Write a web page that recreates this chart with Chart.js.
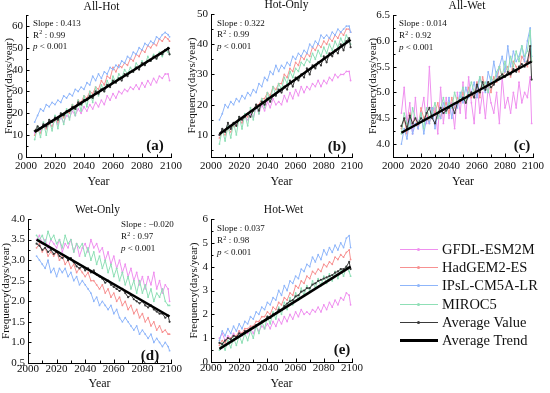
<!DOCTYPE html>
<html>
<head>
<meta charset="utf-8">
<script src="https://cdn.jsdelivr.net/npm/chart.js@4.4.1/dist/chart.umd.min.js"></script>
<style>
  body { margin: 0; width: 550px; height: 393px; background: #fff; position: relative; overflow: hidden; font-family: "Liberation Serif", serif; }
  canvas { position: absolute; }
  .lg { position: absolute; left: 398px; height: 18px; width: 152px; }
  .lg .ln { position: absolute; left: 2px; width: 38px; top: 9px; height: 1px; }
  .lg .dt { position: absolute; left: 19px; top: 8px; width: 3px; height: 3px; border-radius: 50%; }
  .lg span { position: absolute; left: 44px; top: 0; font-size: 14.5px; line-height: 18px; color: #111; white-space: nowrap; }
</style>
</head>
<body>
<canvas id="pa" style="left:0px;top:0px" width="187" height="190"></canvas>
<canvas id="pb" style="left:186px;top:0px" width="182" height="190"></canvas>
<canvas id="pc" style="left:366px;top:0px" width="184" height="190"></canvas>
<canvas id="pd" style="left:0px;top:195px" width="187" height="198"></canvas>
<canvas id="pe" style="left:186px;top:195px" width="182" height="198"></canvas>
<div id="legend"></div>
<script>
const years = [2006,2008,2010,2012,2014,2016,2018,2020,2022,2024,2026,2028,2030,2032,2034,2036,
  2038,2040,2042,2044,2046,2048,2050,2052,2054,2056,2058,2060,2062,2064,2066,2068,2070,2072,
  2074,2076,2078,2080,2082,2084,2086,2088,2090,2092,2094,2096,2098,2099];
const trendYears = [2006, 2099];
const models = ['GFDL-ESM2M', 'HadGEM2-ES', 'IPsL-CM5A-LR', 'MIROC5'];

// (a) All-Hot
const allHotGfdl = [11,13,12,15,13,16,14,17,15,18,16,19,18,21,19,22,20,23,21,24,22,25,23,26,24,28,26,29,27,30,29,31,30,32,31,33,31,34,32,35,33,36,34,37,36,38,38,35];
const allHotHad = [10,12,11,14,13,15,14,17,16,19,18,21,20,24,22,26,25,28,27,30,29,32,31,35,33,37,36,41,39,42,41,43,42,45,44,47,46,49,48,51,50,52,51,54,53,55,54,53];
const allHotIpsl = [16,19,22,21,24,23,25,24,26,25,28,27,29,28,31,30,32,31,34,33,37,35,38,36,39,38,41,40,42,41,44,43,46,45,48,47,50,49,52,51,53,52,55,54,56,57,56,55];
const allHotMiroc = [8,14,9,16,10,17,12,19,13,20,15,22,17,24,19,26,21,28,23,30,25,32,28,33,30,35,32,37,34,38,36,40,38,41,39,43,41,44,42,46,44,47,45,48,46,49,48,47];
const allHotAvg = [12,14,13,15,14,17,16,18,17,20,19,21,21,23,22,25,24,26,26,28,27,30,29,31,30,33,32,35,34,36,35,38,37,39,39,41,40,43,42,44,44,46,45,47,47,49,50,47];
const allHotTrend = [11.5, 50.0];

// (b) Hot-Only
const hotOnlyGfdl = [10,12,11,13,12,14,13,15,14,16,15,17,16,19,17,20,18,21,19,22,20,21,20,23,21,24,22,25,23,26,24,26,25,27,26,28,26,28,27,29,28,30,29,30,30,31,31,28];
const hotOnlyHad = [9,11,10,12,11,13,13,15,14,16,16,18,18,20,20,22,22,24,23,26,25,27,27,30,29,32,31,34,33,36,35,37,36,39,38,40,39,41,40,42,41,43,42,44,43,45,45,44];
const hotOnlyIpsl = [15,17,20,19,21,20,22,21,23,22,24,23,25,24,27,26,29,28,31,30,33,31,33,32,34,33,36,35,37,36,38,37,40,39,41,40,43,42,43,42,44,43,45,44,45,46,46,44];
const hotOnlyMiroc = [7,12,8,13,9,14,10,16,12,17,13,19,15,20,17,22,19,24,21,26,23,27,25,29,27,31,29,32,31,34,33,35,34,37,35,38,36,39,37,40,38,41,39,42,40,43,41,40];
const hotOnlyAvg = [10,12,11,14,12,14,13,16,15,16,17,16,18,20,18,21,20,22,21,23,23,25,24,26,25,28,26,29,28,30,29,32,30,33,32,34,33,36,34,37,36,38,37,40,38,41,42,39];
const hotOnlyTrend = [10.3, 41.5];

// (c) All-Wet
const allWetGfdl = [4.6,5.1,4.4,4.8,4.2,4.9,4.3,4.6,4.9,4.4,5.5,4.5,4.7,4.2,5.1,4.4,4.9,4.5,4.8,4.3,5.0,4.6,5.2,4.5,5.3,4.8,4.4,5.2,4.6,5.0,4.5,5.1,4.8,4.6,5.0,4.4,5.3,4.7,4.9,4.6,5.0,4.7,5.2,4.8,5.0,4.9,5.3,4.4];
const allWetHad = [4.3,4.5,4.2,4.6,4.4,4.5,4.3,4.7,4.5,4.6,4.4,4.7,4.6,4.8,4.5,4.7,4.8,4.6,4.9,4.7,4.9,4.8,5.0,4.8,5.1,4.9,5.0,5.2,4.9,5.3,5.1,5.2,5.0,5.3,5.2,5.5,5.3,5.4,5.5,5.3,5.6,5.5,5.4,5.7,5.6,5.5,5.8,5.6];
const allWetIpsl = [4.0,4.3,4.1,4.5,4.2,4.4,4.3,4.6,4.2,4.5,4.4,4.7,4.3,4.6,4.5,4.8,4.6,4.9,4.5,4.8,4.7,5.0,4.8,5.1,4.9,5.0,5.2,4.9,5.3,5.1,5.0,5.4,5.2,5.6,5.3,5.5,5.7,5.4,5.9,5.5,5.8,5.6,5.7,5.9,5.6,6.0,6.25,5.7];
const allWetMiroc = [4.2,4.6,4.4,4.3,4.7,4.5,4.4,4.6,4.3,4.7,4.5,4.6,4.8,4.5,4.7,4.9,4.6,4.8,4.7,5.0,4.8,4.9,5.1,4.8,5.0,5.2,5.0,5.1,5.3,5.1,5.2,5.0,5.3,5.2,5.4,5.5,5.3,5.6,5.4,5.7,5.5,5.8,5.6,5.9,5.7,5.8,6.2,5.6];
const allWetAvg = [4.35,4.5,4.3,4.55,4.4,4.5,4.4,4.5,4.45,4.6,4.7,4.5,4.4,4.6,4.7,4.6,4.65,4.7,4.75,4.6,4.8,4.85,4.9,4.8,4.95,5.0,4.9,5.15,5.0,5.2,5.05,5.2,5.1,5.15,5.25,5.3,5.35,5.3,5.4,5.35,5.45,5.4,5.5,5.55,5.5,5.6,5.9,5.25];
const allWetTrend = [4.22, 5.6];

// (d) Wet-Only
const wetOnlyGfdl = [3.5,3.6,3.4,3.5,3.3,3.5,3.4,3.3,3.5,3.2,3.4,3.3,3.5,3.2,3.4,3.1,3.3,3.4,3.2,3.5,3.3,3.4,3.2,3.3,3.0,3.2,2.9,3.1,2.8,3.0,2.7,2.9,2.6,2.8,2.5,2.7,2.4,2.6,2.3,2.6,2.4,2.7,2.3,2.5,2.2,2.4,2.3,2.0];
const wetOnlyHad = [3.3,3.4,3.2,3.3,3.1,3.2,3.1,3.2,3.0,3.1,2.9,3.0,2.8,2.9,2.7,2.8,2.7,2.6,2.7,2.5,2.5,2.4,2.3,2.4,2.2,2.3,2.1,2.2,2.0,2.1,1.9,2.0,1.8,1.9,1.7,1.8,1.6,1.7,1.5,1.6,1.4,1.5,1.3,1.4,1.25,1.3,1.2,1.2];
const wetOnlyIpsl = [3.1,3.0,2.9,2.8,3.0,2.7,2.8,2.6,2.8,2.7,2.8,2.6,2.7,2.5,2.6,2.4,2.5,2.4,2.3,2.2,2.0,2.1,1.9,2.0,1.9,1.8,1.9,1.7,1.8,1.6,1.5,1.6,1.5,1.4,1.3,1.4,1.2,1.3,1.2,1.1,1.2,1.0,1.1,1.0,0.9,1.0,0.9,0.8];
const wetOnlyMiroc = [3.6,3.5,3.6,3.4,3.7,3.5,3.6,3.4,3.5,3.3,3.6,3.4,3.5,3.2,3.4,3.3,3.4,3.1,3.3,3.0,3.2,2.9,3.1,2.8,3.0,2.7,2.9,2.6,2.8,2.5,2.7,2.4,2.6,2.3,2.5,2.2,2.5,2.2,2.4,2.1,2.3,2.0,2.2,2.1,2.3,2.0,1.9,1.9];
const wetOnlyAvg = [3.4,3.35,3.25,3.3,3.2,3.25,3.15,3.2,3.1,3.05,3.1,3.0,3.05,2.95,2.85,2.8,2.85,2.75,2.8,2.7,2.75,2.65,2.6,2.55,2.45,2.5,2.4,2.35,2.3,2.25,2.3,2.2,2.1,2.15,2.05,2.0,1.95,2.0,1.9,1.85,1.9,1.8,1.75,1.7,1.7,1.6,1.65,1.5];
const wetOnlyTrend = [3.5, 1.63];

// (e) Hot-Wet
const hotWetGfdl = [1.0,1.2,0.9,1.1,1.0,1.2,1.0,1.3,1.1,1.3,1.2,1.4,1.2,1.5,1.3,1.5,1.4,1.6,1.4,1.7,1.5,1.8,1.6,1.9,1.7,2.0,1.8,2.1,1.9,2.2,2.0,2.1,2.0,2.2,2.1,2.3,2.1,2.4,2.2,2.5,2.3,2.6,2.4,2.7,2.6,2.9,2.8,2.4];
const hotWetHad = [0.7,0.9,0.8,1.0,1.0,1.1,1.1,1.3,1.2,1.4,1.4,1.5,1.5,1.7,1.7,1.9,1.9,2.1,2.0,2.3,2.2,2.5,2.4,2.7,2.6,2.9,2.8,3.2,3.1,3.4,3.3,3.6,3.5,3.8,3.7,3.9,3.8,4.1,4.0,4.2,4.1,4.4,4.3,4.5,4.4,4.6,4.7,4.3];
const hotWetIpsl = [0.9,1.3,1.1,1.4,1.2,1.5,1.3,1.6,1.4,1.7,1.6,1.9,1.8,2.1,2.0,2.3,2.2,2.5,2.4,2.7,2.6,3.0,2.8,3.2,3.0,3.4,3.3,3.6,3.5,3.9,3.8,4.1,4.0,4.4,4.2,4.5,4.3,4.7,4.5,4.8,4.6,4.9,4.7,5.0,4.8,5.2,5.3,4.8];
const hotWetMiroc = [0.5,0.8,0.5,0.9,0.6,1.0,0.7,1.1,0.8,1.2,0.9,1.3,1.0,1.5,1.2,1.7,1.4,1.9,1.6,2.1,1.8,2.3,2.0,2.5,2.2,2.7,2.4,2.9,2.6,3.1,2.8,3.2,3.0,3.4,3.1,3.5,3.2,3.6,3.3,3.7,3.4,3.8,3.5,3.9,3.6,4.0,3.8,3.6];
const hotWetAvg = [0.8,0.75,0.9,1.0,0.95,1.1,1.05,1.2,1.15,1.3,1.3,1.4,1.45,1.55,1.6,1.7,1.75,1.9,1.85,2.0,2.05,2.2,2.2,2.35,2.45,2.55,2.6,2.75,2.8,2.95,3.0,3.1,3.1,3.25,3.3,3.4,3.45,3.5,3.55,3.6,3.65,3.75,3.8,3.9,3.9,4.0,4.2,3.9];
const hotWetTrend = [0.55, 4.0];

const colors = ['#ef90ef', '#f79191', '#8fb6fa', '#8fdfb6'];
const FONT = '"Liberation Serif", "Times New Roman", serif';

const pts = (xs, ys) => xs.map((x, i) => ({x: x, y: ys[i]}));
const isMult = (v, s) => Math.abs(v / s - Math.round(v / s)) < 1e-6;

function decor(cfg) {
  return {
    id: 'decor',
    afterDraw(chart) {
      const {ctx, chartArea: a} = chart;
      const xs = chart.scales.x, ys = chart.scales.y;
      ctx.save();
      ctx.strokeStyle = '#000';
      ctx.lineWidth = 1;
      xs.ticks.forEach(t => {
        const px = Math.round(xs.getPixelForValue(t.value)) + 0.5;
        const len = t.label ? 3.5 : 2.5;
        ctx.beginPath(); ctx.moveTo(px, a.bottom); ctx.lineTo(px, a.bottom - len); ctx.stroke();
      });
      ys.ticks.forEach(t => {
        const py = Math.round(ys.getPixelForValue(t.value)) + 0.5;
        const len = t.label ? 3.5 : 2.5;
        ctx.beginPath(); ctx.moveTo(a.left, py); ctx.lineTo(a.left + len, py); ctx.stroke();
      });

      ctx.fillStyle = '#111';
      ctx.textBaseline = 'middle';
      ctx.textAlign = 'center';
      ctx.font = '11.5px ' + FONT;
      ctx.fillText(cfg.title, (a.left + a.right) / 2 + cfg.titleDX, a.top + cfg.titleDY);

      // slope / R2 / p text
      const x0 = a.left + cfg.statsX;
      const [y1, y2, y3] = cfg.statsY.map(d => a.top + d);
      ctx.textAlign = 'left';
      ctx.font = '9px ' + FONT;
      ctx.fillText('Slope : ' + cfg.slope, x0, y1);
      ctx.fillText('R', x0, y2);
      const wr = ctx.measureText('R').width;
      ctx.font = '6px ' + FONT;
      ctx.fillText('2', x0 + wr + 0.3, y2 - 3);
      ctx.font = '9px ' + FONT;
      ctx.fillText(' : ' + cfg.r2, x0 + wr + 3.5, y2);
      ctx.font = 'italic 9px ' + FONT;
      ctx.fillText('p', x0, y3);
      const wp = ctx.measureText('p').width;
      ctx.font = '9px ' + FONT;
      ctx.fillText(' < 0.001', x0 + wp, y3);

      ctx.textAlign = 'center';
      ctx.font = 'bold 15px ' + FONT;
      ctx.fillText(cfg.label, a.right - cfg.labelDX, a.bottom - cfg.labelDY);
      ctx.restore();
    }
  };
}

function makePanel(id, cfg) {
  const series = [cfg.gfdl, cfg.had, cfg.ipsl, cfg.miroc];
  const datasets = series.map((s, i) => ({
    label: models[i],
    data: pts(years, s),
    borderColor: colors[i],
    backgroundColor: colors[i],
    borderWidth: 1,
    pointRadius: 0.9,
    pointBorderWidth: 0,
    order: 5 - i
  }));
  datasets.push({
    label: 'Average Value', data: pts(years, cfg.avg),
    borderColor: '#3a3a3a', backgroundColor: '#3a3a3a',
    borderWidth: 1, pointRadius: 1.1, pointBorderWidth: 0, order: 1
  });
  datasets.push({
    label: 'Average Trend', data: pts(trendYears, cfg.trend),
    borderColor: '#000', borderWidth: 2.5, pointRadius: 0, order: 0
  });

  new Chart(document.getElementById(id), {
    type: 'line',
    data: {datasets},
    plugins: [decor(cfg)],
    options: {
      responsive: false,
      animation: false,
      devicePixelRatio: 1,
      layout: {padding: cfg.pad},
      plugins: {legend: {display: false}, tooltip: {enabled: false}},
      scales: {
        x: {
          type: 'linear', min: 2000, max: 2100,
          grid: {display: false, drawTicks: false},
          border: {display: true, color: '#000', width: 1},
          ticks: {
            stepSize: 10, autoSkip: false, maxRotation: 0, minRotation: 0,
            padding: cfg.xTickPad, color: '#111', font: {family: FONT, size: 11},
            callback: v => isMult(v, 20) ? String(v) : ''
          },
          title: {display: true, text: 'Year', color: '#111', font: {family: FONT, size: 12},
            padding: {top: 0, bottom: cfg.xTitlePad}},
          afterFit: s => { s.height = cfg.xH; }
        },
        y: {
          min: cfg.yMin, max: cfg.yMax,
          grid: {display: false, drawTicks: false},
          border: {display: true, color: '#000', width: 1},
          ticks: {
            stepSize: cfg.yStep, autoSkip: false, includeBounds: false,
            padding: 3, color: '#111', font: {family: FONT, size: 11},
            callback: v => isMult(v, cfg.yEvery) ? v.toFixed(cfg.yDec) : ''
          },
          title: {display: true, text: 'Frequency(days/year)', color: '#111', font: {family: FONT, size: 11},
            padding: {top: cfg.yTitlePad, bottom: 0}},
          afterFit: s => { s.width = cfg.yW; }
        }
      }
    }
  });
}

makePanel('pa', {
  gfdl: allHotGfdl, had: allHotHad, ipsl: allHotIpsl, miroc: allHotMiroc, avg: allHotAvg, trend: allHotTrend,
  yMin: 0, yMax: 65, yStep: 5, yEvery: 10, yDec: 0,
  pad: {left: 0, top: 15, right: 16, bottom: 0}, yW: 26, yTitlePad: 3, xH: 33, xTickPad: 3, xTitlePad: 1,
  title: 'All-Hot', titleDX: 3, titleDY: -8,
  slope: '0.413', r2: '0.99', statsX: 7, statsY: [9, 20.5, 32],
  label: '(a)', labelDX: 16, labelDY: 11
});
makePanel('pb', {
  gfdl: hotOnlyGfdl, had: hotOnlyHad, ipsl: hotOnlyIpsl, miroc: hotOnlyMiroc, avg: hotOnlyAvg, trend: hotOnlyTrend,
  yMin: 2.7, yMax: 50, yStep: 5, yEvery: 10, yDec: 0,
  pad: {left: 0, top: 14, right: 16, bottom: 0}, yW: 25, yTitlePad: 0, xH: 33, xTickPad: 3, xTitlePad: 1,
  title: 'Hot-Only', titleDX: 5, titleDY: -9,
  slope: '0.322', r2: '0.99', statsX: 6, statsY: [10, 21, 32.5],
  label: '(b)', labelDX: 15, labelDY: 10
});
makePanel('pc', {
  gfdl: allWetGfdl, had: allWetHad, ipsl: allWetIpsl, miroc: allWetMiroc, avg: allWetAvg, trend: allWetTrend,
  yMin: 3.75, yMax: 6.5, yStep: 0.25, yEvery: 0.5, yDec: 1,
  pad: {left: 0, top: 15, right: 17, bottom: 0}, yW: 27, yTitlePad: 1, xH: 33, xTickPad: 3, xTitlePad: 1,
  title: 'All-Wet', titleDX: 4, titleDY: -9,
  slope: '0.014', r2: '0.92', statsX: 6, statsY: [9, 21, 32.5],
  label: '(c)', labelDX: 11, labelDY: 11
});
makePanel('pd', {
  gfdl: wetOnlyGfdl, had: wetOnlyHad, ipsl: wetOnlyIpsl, miroc: wetOnlyMiroc, avg: wetOnlyAvg, trend: wetOnlyTrend,
  yMin: 0.5, yMax: 4.0, yStep: 0.25, yEvery: 0.5, yDec: 1,
  pad: {left: 0, top: 24, right: 16, bottom: 0}, yW: 28, yTitlePad: 0, xH: 30, xTickPad: 0, xTitlePad: 2,
  title: 'Wet-Only', titleDX: -2, titleDY: -9,
  slope: '\u22120.020', r2: '0.97', statsX: 93, statsY: [5.5, 18, 29.5],
  label: '(d)', labelDX: 21, labelDY: 7
});
makePanel('pe', {
  gfdl: hotWetGfdl, had: hotWetHad, ipsl: hotWetIpsl, miroc: hotWetMiroc, avg: hotWetAvg, trend: hotWetTrend,
  yMin: 0, yMax: 6, yStep: 0.5, yEvery: 1, yDec: 0,
  pad: {left: 0, top: 24, right: 16, bottom: 0}, yW: 25, yTitlePad: 2, xH: 31, xTickPad: 0, xTitlePad: 2,
  title: 'Hot-Wet', titleDX: 2, titleDY: -9,
  slope: '0.037', r2: '0.98', statsX: 6, statsY: [9.5, 22, 33.5],
  label: '(e)', labelDX: 10, labelDY: 12
});

// legend
const legendItems = models.map((m, i) => ({text: m, color: colors[i], dot: true, w: 1}))
  .concat([{text: 'Average Value', color: '#3a3a3a', dot: true, w: 1},
           {text: 'Average Trend', color: '#000', dot: false, w: 3}]);
const lg = document.getElementById('legend');
legendItems.forEach((it, i) => {
  const d = document.createElement('div');
  d.className = 'lg';
  d.style.top = (240 + i * 18.2) + 'px';
  d.innerHTML = '<div class="ln" style="background:' + it.color + ';height:' + it.w + 'px;top:' + (9.5 - it.w / 2) + 'px"></div>' +
    (it.dot ? '<div class="dt" style="background:' + it.color + '"></div>' : '') +
    '<span>' + it.text + '</span>';
  lg.appendChild(d);
});
</script>
</body>
</html>
